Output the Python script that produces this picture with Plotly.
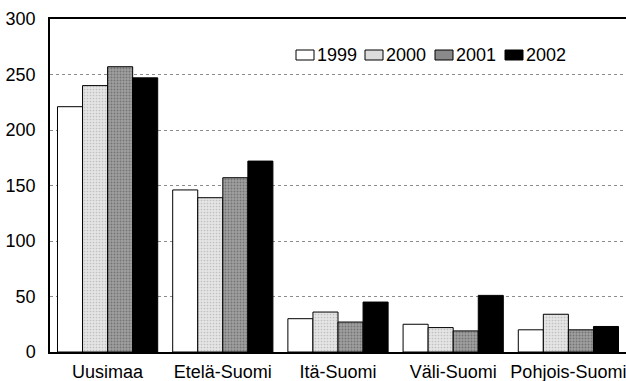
import plotly.graph_objects as go

# Regions and yearly values
regions = ["Uusimaa", "Etelä-Suomi", "Itä-Suomi", "Väli-Suomi", "Pohjois-Suomi"]
years = ["1999", "2000", "2001", "2002"]
v1999 = [221, 146, 30, 25, 20]
v2000 = [240, 139, 36, 22, 34]
v2001 = [257, 157, 27, 19, 20]
v2002 = [247, 172, 45, 51, 23]
y_ticks = [0, 50, 100, 150, 200, 250, 300]

series = [v1999, v2000, v2001, v2002]
fills = ["white", "#dcdcdc", "#8a8a8a", "black"]
patterns = [
    None,
    dict(shape=".", fgcolor="#9c9c9c", bgcolor="#e4e4e4", size=3, solidity=0.25),
    dict(shape=".", fgcolor="#4a4a4a", bgcolor="#a0a0a0", size=3, solidity=0.35),
    None,
]

fig = go.Figure()
for name, vals, col, pat in zip(years, series, fills, patterns):
    marker = dict(color=col, line=dict(color="black", width=1))
    if pat:
        marker["pattern"] = pat
    fig.add_trace(go.Bar(x=regions, y=vals, name=name, marker=marker, showlegend=False))

# Legend row drawn as key boxes with labels, inside the top of the plot area
PLOT_L, PLOT_W, PLOT_B, PLOT_H = 50, 576, 352, 333
def px_x(p):
    return (p - PLOT_L) / PLOT_W
def px_y(p):
    return (PLOT_B - p) / PLOT_H

key_left = [296, 365, 435, 505]
for name, col, x0 in zip(years, fills, key_left):
    fig.add_shape(
        type="rect", xref="paper", yref="paper",
        x0=px_x(x0), x1=px_x(x0 + 18), y0=px_y(60), y1=px_y(50),
        fillcolor=col, line=dict(color="black", width=1),
    )
    fig.add_annotation(
        text=name, xref="paper", yref="paper", x=px_x(x0 + 19), y=px_y(55),
        xanchor="left", yanchor="middle", showarrow=False,
        font=dict(size=18),
    )

font = "Liberation Sans, Arial, sans-serif"
fig.update_layout(
    width=626, height=381,
    margin=dict(l=50, r=0, t=19, b=29),
    paper_bgcolor="white", plot_bgcolor="white",
    barmode="group", bargap=0.13, bargroupgap=0,
    font=dict(family=font, size=18, color="black"),
    showlegend=False,
    xaxis=dict(
        showline=True, linecolor="black", linewidth=1.5, mirror=True,
        ticks="", showgrid=False, tickfont=dict(size=18), tickangle=0,
        automargin=False, ticklabelstandoff=3,
    ),
    yaxis=dict(
        range=[0, 300], tickvals=y_ticks, showline=True, linecolor="black",
        linewidth=1.5, ticks="", showgrid=True, gridcolor="#8c8c8c",
        griddash="dot", gridwidth=1, zeroline=False, ticklabelstandoff=9,
        tickfont=dict(size=18), automargin=False,
    ),
)

fig.write_html("out.html")
